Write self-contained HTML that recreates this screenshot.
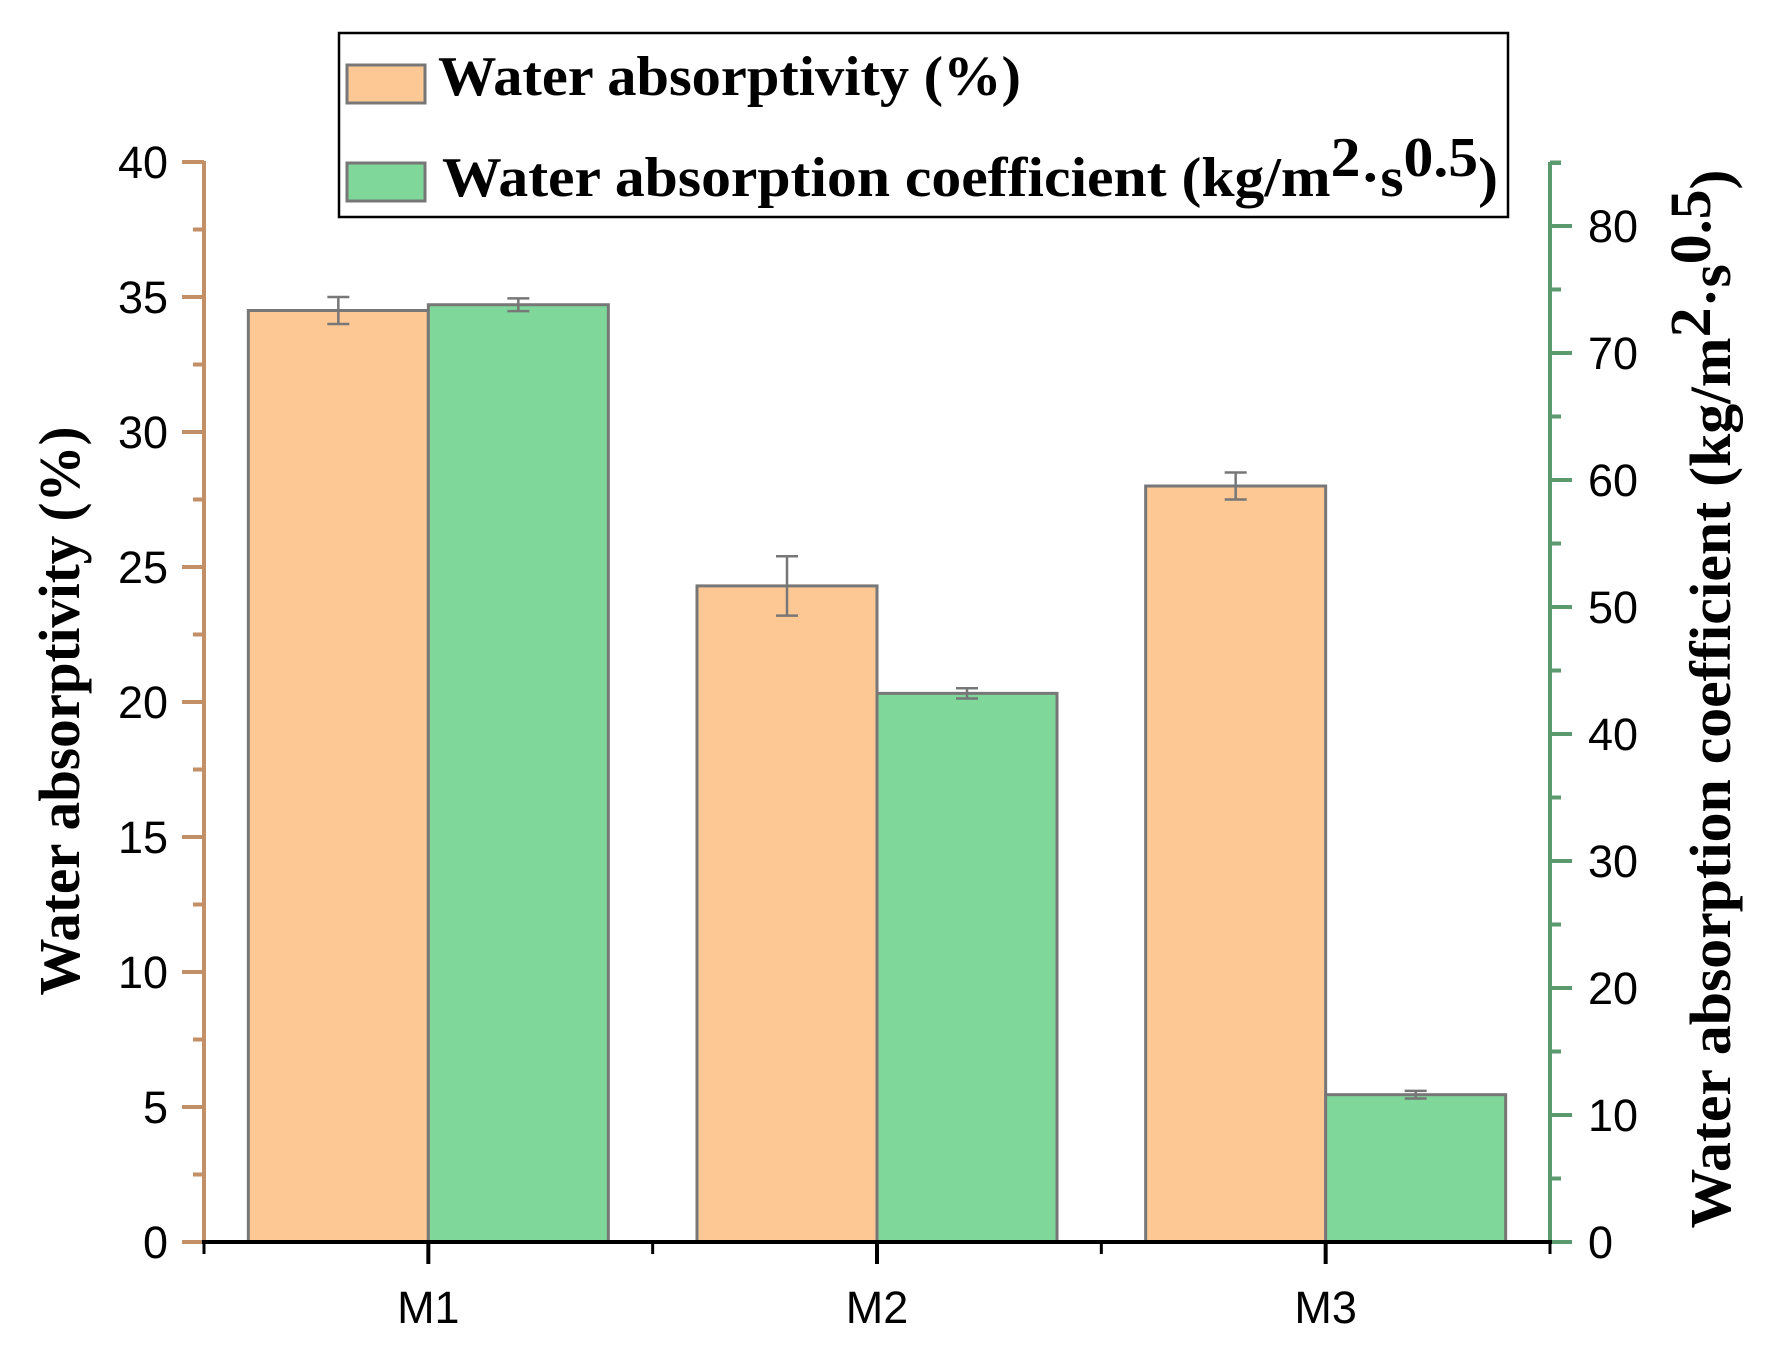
<!DOCTYPE html>
<html><head><meta charset="utf-8"><style>
html,body{margin:0;padding:0;background:#fff;}
svg{display:block;}
</style></head><body>
<svg id="chart" width="1776" height="1358" viewBox="0 0 1776 1358" xmlns="http://www.w3.org/2000/svg">
<g id="bars"></g>
<g id="axes"></g>
<text transform="translate(79,711) rotate(-90)" text-anchor="middle" font-family="Liberation Serif, serif" font-weight="bold" font-size="58" textLength="569" lengthAdjust="spacingAndGlyphs">Water absorptivity (%)</text>
<text transform="translate(1730,699) rotate(-90)" text-anchor="middle" font-family="Liberation Serif, serif" font-weight="bold" font-size="58" textLength="1059" lengthAdjust="spacingAndGlyphs">Water absorption coefficient (kg/m<tspan baseline-shift="35%">2</tspan>·s<tspan baseline-shift="35%">0.5</tspan>)</text>
<g>
<rect x="339" y="33" width="1169" height="184" fill="#fff" stroke="#000" stroke-width="2.5"/>
<rect x="347" y="65" width="78" height="38" fill="#FEC895" stroke="#777" stroke-width="3"/>
<text x="438" y="95" font-family="Liberation Serif, serif" font-weight="bold" font-size="56" textLength="583" lengthAdjust="spacingAndGlyphs">Water absorptivity (%)</text>
<rect x="347" y="163" width="78" height="38" fill="#7FD89A" stroke="#777" stroke-width="3"/>
<text x="442" y="196" font-family="Liberation Serif, serif" font-weight="bold" font-size="56" textLength="1056" lengthAdjust="spacingAndGlyphs">Water absorption coefficient (kg/m<tspan baseline-shift="35%">2</tspan>·s<tspan baseline-shift="35%">0.5</tspan>)</text>
</g>
</svg>
<script>
const categories = ['M1','M2','M3'];
const absorptivity = [34.5, 24.3, 28.0];
const absorptivityErr = [0.5, 1.1, 0.5];
const coefficient = [73.8, 43.2, 11.6];
const coefficientErr = [0.5, 0.4, 0.3];
const leftTicks = [0,5,10,15,20,25,30,35,40];
const rightTicks = [0,10,20,30,40,50,60,70,80];

const NS='http://www.w3.org/2000/svg';
const X0=204, X1=1550, Y0=1242;
const yL = v => Y0 - v*(1242-162)/40;
const yR = v => Y0 - v*(1241-225)/80;
const catW = (X1-X0)/categories.length;
const xC = i => X0 + catW*(i+0.5);
const barW = 180;
function mk(tag, attrs, parent){const e=document.createElementNS(NS,tag);for(const k in attrs)e.setAttribute(k,attrs[k]);parent.appendChild(e);return e;}
const bars=document.getElementById('bars'), axes=document.getElementById('axes');

function errBar(x,yTop,yBot,parent){
  const g=mk('g',{stroke:'#777','stroke-width':2.5},parent);
  
  
  mk('line',{x1:x,x2:x,y1:yTop,y2:yBot},g);
  mk('line',{x1:x-11,x2:x+11,y1:yTop,y2:yTop},g);
  mk('line',{x1:x-11,x2:x+11,y1:yBot,y2:yBot},g);
}
categories.forEach((c,i)=>{
  const cx=xC(i);
  const a=mk('rect',{x:cx-barW,y:yL(absorptivity[i]),width:barW,height:Y0-yL(absorptivity[i]),fill:'#FEC895',stroke:'#777','stroke-width':3},bars);
  
  
  const b=mk('rect',{x:cx,y:yR(coefficient[i]),width:barW,height:Y0-yR(coefficient[i]),fill:'#7FD89A',stroke:'#777','stroke-width':3},bars);
  
  
  errBar(cx-barW/2, yL(absorptivity[i]+absorptivityErr[i]), yL(absorptivity[i]-absorptivityErr[i]), bars);
  errBar(cx+barW/2, yR(coefficient[i]+coefficientErr[i]), yR(coefficient[i]-coefficientErr[i]), bars);
  const t=mk('text',{x:cx,y:1323,'text-anchor':'middle','font-family':'Liberation Sans, sans-serif','font-size':45},axes);
  t.textContent=c;
  
  
  const tk=mk('line',{x1:cx,x2:cx,y1:Y0,y2:Y0+22,stroke:'#000','stroke-width':4},axes);
  
  
});
for(let i=0;i<=categories.length;i++){
  const x=X0+catW*i;
  const tk=mk('line',{x1:x,x2:x,y1:Y0,y2:Y0+12,stroke:'#000','stroke-width':3},axes);
  
  
}
const la=mk('line',{x1:X0,x2:X0,y1:yL(40)-1,y2:Y0,stroke:'#C38F66','stroke-width':4},axes);


leftTicks.forEach(v=>{
  const y=yL(v);
  const l=mk('line',{x1:X0-22,x2:X0,y1:y,y2:y,stroke:'#C38F66','stroke-width':4},axes);
  
  
  if(v<40){const m=mk('line',{x1:X0-11,x2:X0,y1:yL(v+2.5),y2:yL(v+2.5),stroke:'#C38F66','stroke-width':4},axes);
  
  }
  const t=mk('text',{x:168,y:y+16,'text-anchor':'end','font-family':'Liberation Sans, sans-serif','font-size':45},axes);
  t.textContent=v;
  
  
});
const ra=mk('line',{x1:X1,x2:X1,y1:162,y2:Y0,stroke:'#5A9A6E','stroke-width':4},axes);


const rt=mk('line',{x1:X1,x2:X1+11,y1:163,y2:163,stroke:'#5A9A6E','stroke-width':4},axes);


rightTicks.forEach(v=>{
  const y=yR(v);
  const l=mk('line',{x1:X1,x2:X1+22,y1:y,y2:y,stroke:'#5A9A6E','stroke-width':4},axes);
  
  
  const m=mk('line',{x1:X1,x2:X1+11,y1:yR(v+5),y2:yR(v+5),stroke:'#5A9A6E','stroke-width':4},axes);
  
  
  const t=mk('text',{x:1588,y:y+16,'text-anchor':'start','font-family':'Liberation Sans, sans-serif','font-size':45},axes);
  t.textContent=v;
  
  
});
const xa=mk('line',{x1:X0-2,x2:X1+2,y1:Y0,y2:Y0,stroke:'#000','stroke-width':4},axes);


</script>
</body></html>
